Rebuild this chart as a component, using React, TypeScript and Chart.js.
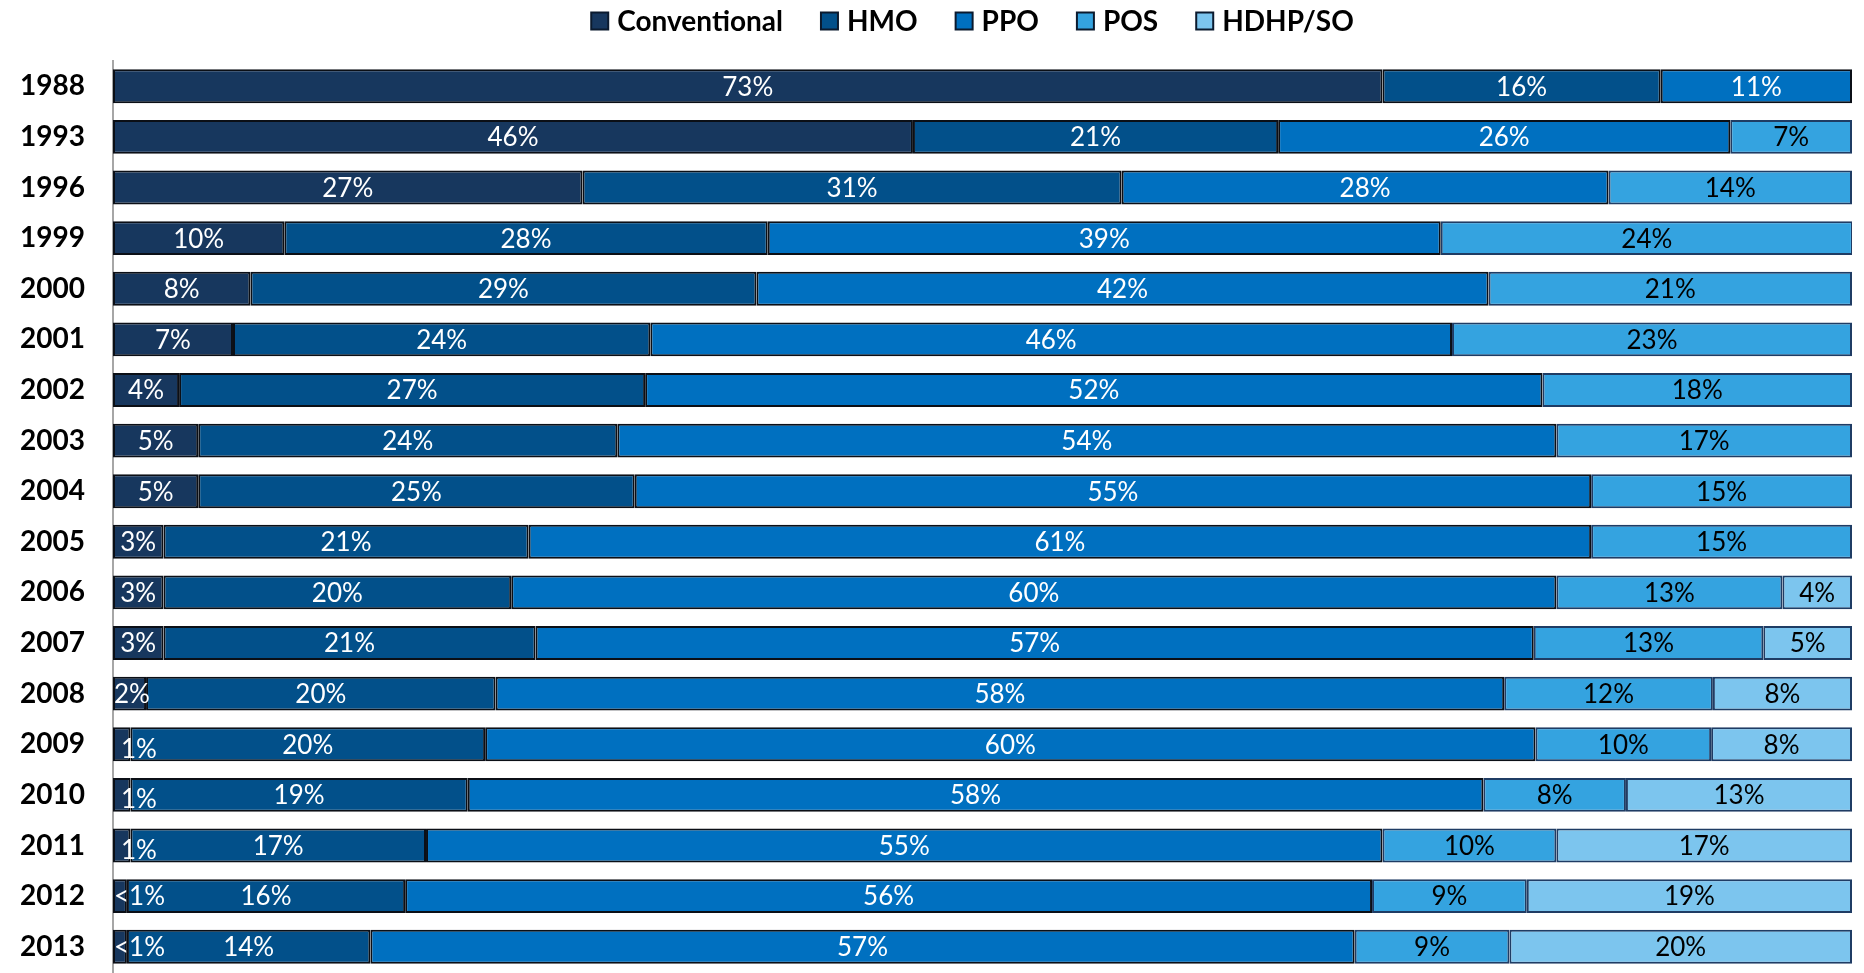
import React, { useEffect, useRef } from "react";
import { Chart, registerables } from "chart.js";

Chart.register(...registerables);

const years = ["1988", "1993", "1996", "1999", "2000", "2001", "2002", "2003", "2004", "2005", "2006", "2007", "2008", "2009", "2010", "2011", "2012", "2013"];
const conventional = [73, 46, 27, 9.85, 7.9, 6.9, 3.8, 4.9, 4.9, 2.9, 2.9, 2.9, 1.9, 1.0, 1.0, 1.0, 0.8, 0.8];
const hmo = [16, 21, 31, 27.8, 29.1, 24, 26.8, 24.1, 25.1, 21, 20, 21.4, 20.1, 20.4, 19.4, 17, 16, 14];
const ppo = [11, 26, 28, 38.7, 42.1, 46.1, 51.6, 54, 55, 61.1, 60.1, 57.4, 58, 60.4, 58.4, 55, 55.6, 56.6];
const pos = [0, 7, 14, 23.7, 20.9, 23, 17.8, 17, 15, 15, 13, 13.2, 12, 10.1, 8.2, 10, 8.9, 8.9];
const hdhp = [0, 0, 0, 0, 0, 0, 0, 0, 0, 0, 4, 5.1, 8, 8.1, 13.0, 17, 18.7, 19.7];

const seriesNames = ["Conventional", "HMO", "PPO", "POS", "HDHP/SO"];
const seriesColors = ["#17375E", "#02508A", "#0070C0", "#34A3E0", "#7CC5EE"];
const borderColors = ["#0b0f16", "#0b0f16", "#0b0f16", "#1F3C64", "#1F3C64"];
const labelColors = ["#ffffff", "#ffffff", "#ffffff", "#000000", "#000000"];

const fmt = (v: number) => (v < 1 ? "<1%" : Math.round(v) + "%");

const labelPlugin = {
  id: "segLabels",
  afterDatasetsDraw(chart: any) {
    const ctx = chart.ctx;
    ctx.save();
    ctx.font = "26px Lato";
    ctx.textBaseline = "middle";
    chart.data.datasets.forEach((ds: any, di: number) => {
      const meta = chart.getDatasetMeta(di);
      meta.data.forEach((el: any, i: number) => {
        const v = ds.data[i];
        if (!v) return;
        const text = fmt(v);
        const tw = ctx.measureText(text).width;
        const segW = Math.abs(el.x - el.base);
        ctx.fillStyle = labelColors[di];
        if (tw > segW && di === 0) {
          ctx.textAlign = "left";
          if (text === "1%") ctx.fillText(text, el.base + 8, el.y + 5);
          else ctx.fillText(text, el.base + 1, el.y + 1);
        } else {
          ctx.textAlign = "center";
          ctx.fillText(text, (el.x + el.base) / 2, el.y + 1);
        }
      });
    });
    ctx.restore();
  },
};

const legendPlugin = {
  id: "customLegend",
  afterDraw(chart: any) {
    const ctx = chart.ctx;
    ctx.save();
    ctx.font = "bold 28px Lato";
    ctx.textBaseline = "middle";
    ctx.textAlign = "left";
    const box = 17;
    const gapBoxText = 9;
    const gapItem = 38;
    const widths = seriesNames.map((n) => ctx.measureText(n).width);
    const total = widths.reduce((a, w) => a + box + gapBoxText + w, 0) + gapItem * (seriesNames.length - 1);
    const area = chart.chartArea;
    let x = (area.left + area.right) / 2 - 10 - total / 2;
    const y = 21;
    seriesNames.forEach((n, i) => {
      ctx.fillStyle = seriesColors[i];
      ctx.fillRect(x, y - box / 2, box, box);
      ctx.strokeStyle = "#0b1a2e";
      ctx.lineWidth = 2;
      ctx.strokeRect(x, y - box / 2, box, box);
      ctx.fillStyle = "#000";
      ctx.fillText(n, x + box + gapBoxText, y + 1);
      x += box + gapBoxText + widths[i] + gapItem;
    });
    ctx.restore();
  },
};

export default function App() {
  const ref = useRef<HTMLCanvasElement | null>(null);
  useEffect(() => {
    document.body.style.margin = "0";
    const seriesData = [conventional, hmo, ppo, pos, hdhp];
    const chart = new Chart(ref.current as HTMLCanvasElement, {
      type: "bar",
      data: {
        labels: years,
        datasets: seriesNames.map((name, i) => ({
          label: name,
          data: seriesData[i],
          backgroundColor: seriesColors[i],
          borderColor: borderColors[i],
          borderWidth: 2,
          borderSkipped: false,
          categoryPercentage: 1,
          barPercentage: 0.67,
        })),
      },
      options: {
        indexAxis: "y",
        animation: false,
        responsive: true,
        maintainAspectRatio: false,
        layout: { padding: { left: 0, right: 12, top: 61, bottom: 1 } },
        plugins: {
          tooltip: { enabled: false },
          legend: { display: false },
        },
        scales: {
          x: {
            stacked: true,
            min: 0,
            max: 100,
            display: false,
            afterFit(scale: any) {
              scale.height = 0;
            },
          },
          y: {
            stacked: true,
            grid: { display: false, drawTicks: false },
            border: { display: true, color: "#A6A6A6", width: 2 },
            ticks: {
              font: { family: "Lato", size: 28, weight: "bold" },
              color: "#000",
              padding: 28,
            },
            afterFit(scale: any) {
              scale.width = 113;
              scale.paddingTop = 0;
              scale.paddingBottom = 0;
            },
          },
        },
      },
      plugins: [labelPlugin, legendPlugin],
    } as any);
    return () => chart.destroy();
  }, []);
  return (
    <div style={{ position: "relative", width: 1864, height: 973 }}>
      <canvas ref={ref} />
    </div>
  );
}
